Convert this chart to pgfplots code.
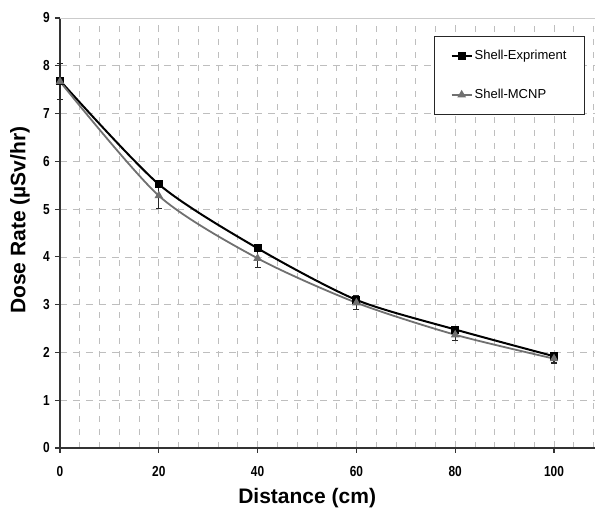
\documentclass[border=0pt]{standalone}
\usepackage{fontspec}
\setmainfont{Liberation Sans}
\usepackage{pgfplots}
\pgfplotsset{compat=1.18}
\definecolor{mcnpgray}{RGB}{112,112,112}
\definecolor{gridgray}{RGB}{190,190,190}

\begin{document}
\begin{tikzpicture}
\begin{axis}[
    scale only axis,
    width=535pt, height=430pt,
    xmin=0, xmax=108.3,
    ymin=0, ymax=9,
    xtick={0,20,...,100},
    minor xtick={4,8,...,108},
    ytick={0,1,...,9},
    axis x line*=bottom,
    axis y line*=left,
    axis line style={line width=1.3pt, draw=black!80, -},
    tick style={line width=1.2pt, draw=black!80},
    major tick length=5pt,
    minor tick length=0pt,
    tick align=outside,
    xmajorgrids, xminorgrids, ymajorgrids,
    major grid style={gridgray, line width=0.7pt, dash pattern=on 7pt off 6pt},
    minor grid style={gridgray, line width=0.7pt, dash pattern=on 6pt off 7pt},
    /pgf/number format/assume math mode=true,
    ticklabel style={font=\fontsize{14.5}{15}\selectfont\bfseries, xscale=0.82, transform shape},
    xticklabel style={yshift=-10pt},
    yticklabel style={xshift=-3pt},
    every axis x label/.style={at={(axis description cs:0.462,0)}, yshift=-50.5pt, anchor=center},
    every axis y label/.style={at={(axis description cs:0,0.53)}, xshift=-40pt, rotate=90, anchor=center},
    xlabel={Distance (cm)},
    ylabel={Dose Rate (µSv/hr)},
    label style={font=\fontsize{21}{23}\selectfont\bfseries},
    legend style={at={(0.981,0.958)}, anchor=north east, draw=black!85, line width=0.8pt,
        font=\fontsize{13}{15}\selectfont, inner xsep=16pt, inner ysep=12pt,
        row sep=24pt, legend cell align=left},
    legend image code/.code={
        \draw[#1] (0pt,0pt) -- (20pt,0pt);
        \draw[#1, only marks] plot coordinates {(10pt,0pt)};
    },
    clip=false,
]
\draw[gridgray!80, line width=0.8pt] (rel axis cs:0,1) -- (rel axis cs:1,1);
\addplot[black, line width=2pt, smooth, tension=0.45, mark=square*, mark size=3pt,
    mark options={solid, fill=black}] coordinates {
    (0,7.69) (20,5.52) (40,4.18) (60,3.10) (80,2.48) (100,1.92)
};
\addplot[mcnpgray, line width=1.8pt, smooth, tension=0.45, mark=triangle*, mark size=3.2pt,
    mark options={solid, fill=mcnpgray},
    error bars/.cd, y dir=both, y explicit,
    error bar style={black!85, line width=1.1pt},
    error mark options={rotate=90, mark size=3pt, black!85, line width=1.1pt}]
    coordinates {
    (0,7.67) +- (0,0.37)
    (20,5.28) +- (0,0.26)
    (40,3.97) +- (0,0.19)
    (60,3.04) +- (0,0.15)
    (80,2.37) +- (0,0.12)
    (100,1.87) +- (0,0.09)
};
\legend{Shell-Expriment, Shell-MCNP}
\coordinate (ll) at (rel axis cs:0,0);
\coordinate (ur) at (rel axis cs:1,1);
\end{axis}
\pgfresetboundingbox
\path[use as bounding box] ([shift={(-60pt,-62pt)}]ll) rectangle ([shift={(0pt,18pt)}]ur);
\end{tikzpicture}
\end{document}
